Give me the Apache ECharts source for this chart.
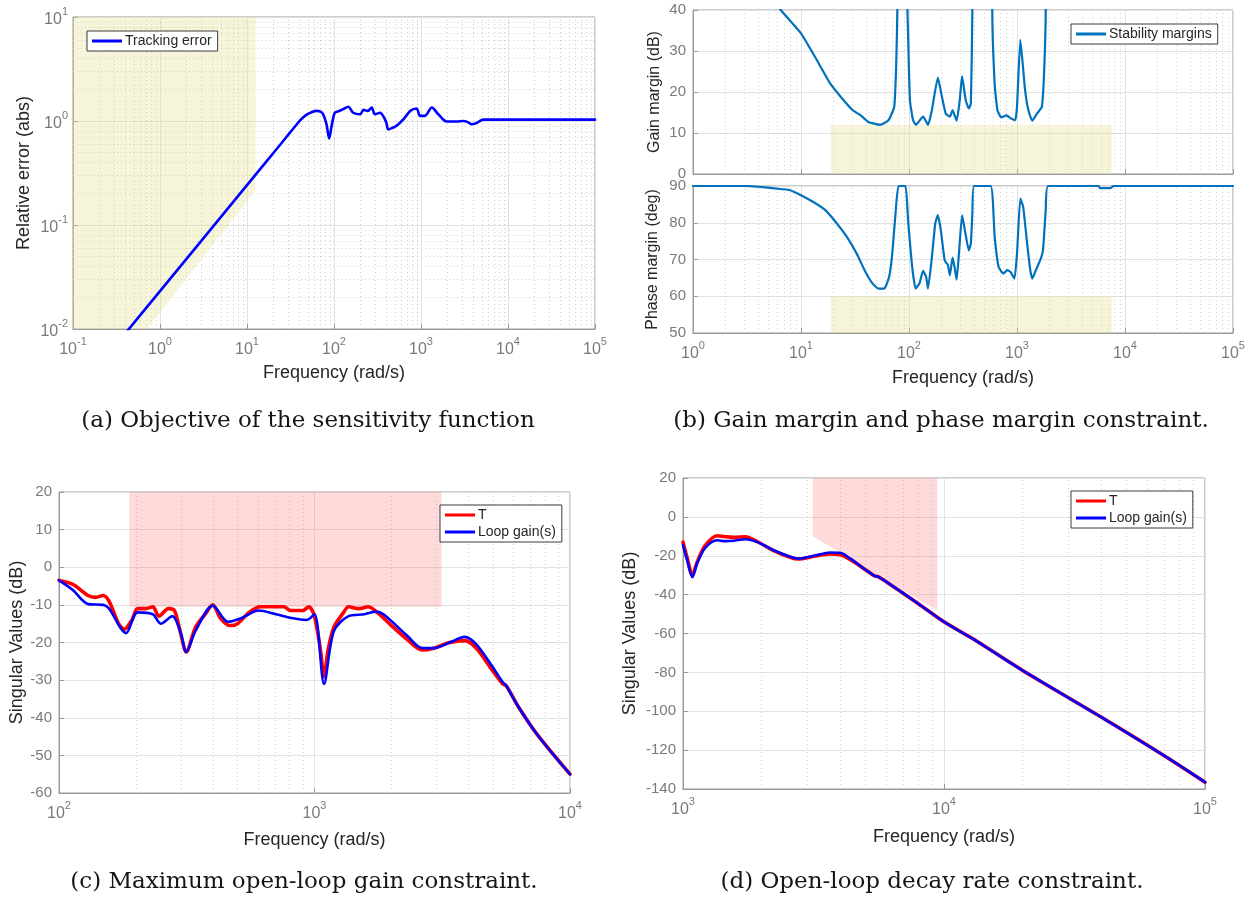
<!DOCTYPE html>
<html><head><meta charset="utf-8">
<script src="https://cdn.jsdelivr.net/npm/echarts@6/dist/echarts.min.js"></script>
<style>html,body{margin:0;padding:0;background:#fff}#c{width:1252px;height:903px}</style>
</head><body><div id="c"></div><script>
// ---------------- DATA ----------------
// (a) tracking error
const aFreq = [0.4,1,3,10,17.6,25,31,37,41,48.5,56,63,70,75,82,88,94,102,112,128,146,166,200,218,245,271,295,338,376,400,420,470,525,630,750,890,975,1110,1330,1580,1970,2570,3060,3500,3800,4300,4760,5200,10000,20000,100000];
const aErr  = [0.0091,0.0231,0.0708,0.2419,0.43,0.615,0.77,0.92,1.02,1.15,1.22,1.25,1.23,1.16,0.93,0.68,0.9,1.2,1.24,1.30,1.37,1.20,1.16,1.28,1.25,1.35,1.16,1.2,1.08,0.96,0.83,0.86,0.9,1.04,1.25,1.32,1.12,1.12,1.35,1.16,0.99,0.99,1.0,0.97,0.93,0.95,1.0,1.03,1.03,1.03,1.03];
const aShade = [[0.1,10],[12.57,10],[12.57,0.215],[0.71,0.01],[0.1,0.01]];

// (b) gain margin (values above 40 = infinite margin, clipped by axis)
const bGainFreq = [1,3,6.5,10,14,18.6,23.4,30,35.7,42,54,64.5,73,76,78,79,96,96.7,98,102,109,116,135,150,163,185,202,219,239,253,276,295,310,335,358,374,386,388,588,590,621,658,716,800,885,962,1000,1073,1121,1189,1273,1385,1531,1698,1780,1845,1850,100000];
const bGainDb   = [70,52,40,34.3,27.8,22.1,18.8,15.6,14.3,12.7,12.0,13.1,16.4,26,40,100,100,40,34.3,18,13.1,12,14,12,15.6,23.5,18.8,14.7,14,15.6,13,18,23.9,18,16,17.2,40,100,100,40,22,15.6,13.8,14.3,13.5,13.1,16.4,32.7,27.8,20.4,15.6,13,14.7,16.4,24.5,40,100,100];
const bGainShade = [[18.85,0],[18.85,12],[7540,12],[7540,0]];
// (b) phase margin
const bPhaseFreq = [1,3,4,6,7.8,10,12.9,16.7,21.5,26.5,32.8,38.8,45.9,52,59,65.5,70,75,80,92.7,98,107,115,125,135,144,150,163,175,185,197,214,229,239,253,264,276,290,310,329,358,374,386,400,570,621,675,747,813,870,946,1000,1073,1140,1241,1327,1385,1494,1640,1740,1845,1942,5680,5900,7310,7830,100000];
const bPhaseDeg  = [90,90,89.8,89.3,88.9,87.5,85.7,83.5,79.8,76.2,71.6,67.1,63.5,62.1,62.1,65.3,71.6,82.5,90,90,80.7,68,62.1,63.5,66.9,65.3,62.1,70.7,79.8,82.1,78,69.8,68.5,65.7,70.5,68,64.5,71.6,82.1,78,72.5,74.4,82.5,90,90,76.2,68,66.2,67.1,66.6,64.8,71.6,86.6,84.4,74.4,67.1,64.8,67.1,69.8,72.5,83.5,90,90,89.4,89.4,90,90];
const bPhaseShade = [[18.85,50],[18.85,60],[7540,60],[7540,50]];

// (c) maximum open-loop gain
const cFreqT = [100,113,130,139,149,157,171,180,193,203,218,233,246,268,283,298,315,342,373,400,428,467,500,555,615,757,806,900,950,1000,1055,1090,1130,1190,1300,1360,1490,1620,1760,2000,2290,2640,2930,3380,3870,4300,4920,5450,5630,6270,7450,10000];
const cT     = [-3.5,-4.5,-7.5,-8,-7.5,-9,-15,-16.5,-14,-11,-11,-10.5,-13,-11,-11.5,-17,-22.5,-16,-12.5,-10,-13.5,-15.5,-15,-12,-10.5,-10.5,-11.5,-11.5,-10.5,-13,-22,-29,-22,-16,-12,-10.5,-11,-10.5,-12,-15.5,-19,-22,-21.5,-20,-19.5,-21.5,-27,-31,-31.5,-37,-44.5,-55];
const cFreqL = [100,113,130,149,157,183,203,233,250,278,298,315,342,400,459,518,605,707,813,933,1000,1090,1190,1360,1567,1740,1862,2290,2640,2930,3380,3870,4300,4920,5450,5630,6270,7450,10000];
const cL     = [-3.5,-6,-9.8,-10,-11,-17.5,-12,-12.5,-15,-13,-17,-22.5,-17,-10.2,-14.5,-13.5,-11.5,-12.5,-13.5,-14,-12.5,-31,-17,-13,-12.5,-11.8,-12.5,-18,-21.5,-21.5,-20,-18.5,-20.5,-26,-30.5,-31.5,-37,-44.5,-55];
const cShade = [[188.5,20],[3141.6,20],[3141.6,-10.5],[188.5,-10.5]];

// (d) open-loop decay rate
const dFreqT = [1000,1036,1086,1132,1216,1352,1452,1560,1735,1930,2225,2570,2760,3175,3660,4000,4380,4860,5410,5600,6470,8000,10000,13000,20000,40000,70000,100000];
const dT     = [-13,-20.8,-30,-23.4,-14.8,-9.7,-10.2,-10.5,-10.2,-12.8,-17.4,-20.8,-21.7,-20.3,-19.1,-19.5,-22,-26,-30.3,-30.8,-36.3,-44.8,-54,-63,-79,-103,-123,-136.5];
const dFreqL = [1000,1036,1086,1132,1216,1352,1452,1560,1735,1930,2225,2570,2760,3175,3660,4000,4380,4860,5410,5600,6470,8000,10000,13000,20000,40000,70000,100000];
const dL     = [-14.5,-22,-31,-24,-16,-12,-12.5,-12.3,-11.5,-13,-17.2,-20.5,-21.5,-20,-18.3,-18.5,-21.5,-26,-30.3,-30.8,-36.3,-44.8,-54,-63,-79,-103,-123,-136.5];
const dShade = [[3141.6,20],[9425,20],[9425,-48.2],[3141.6,-10]];

const captions = ['(a) Objective of the sensitivity function','(b) Gain margin and phase margin constraint.','(c) Maximum open-loop gain constraint.','(d) Open-loop decay rate constraint.'];

// ---------------- STYLE ----------------
const SANS = '"Liberation Sans", Arial, sans-serif';
const AX = '#9a9a9a', LBL = '#7a7a7a', GRID = '#e2e2e2', MINOR = '#cfcfcf', NAME = '#262626';
const YEL = 'rgba(228,222,138,0.32)', RED = 'rgba(250,100,100,0.24)';

const zip = (xs, ys) => xs.map((x, i) => [x, ys[i]]);
function minors(lo, hi) {
  const out = [];
  for (let e = Math.floor(Math.log10(lo)); e < Math.log10(hi); e++)
    for (let m = 2; m <= 9; m++) { const v = m * Math.pow(10, e); if (v > lo * 1.0001 && v < hi * 0.9999) out.push(v); }
  return out;
}
const pow10 = v => '{b|10}{e|' + Math.round(Math.log10(v)) + '}';
const powRich = {
  b: {fontSize: 16, color: LBL, fontFamily: SANS, verticalAlign: 'bottom', lineHeight: 22},
  e: {fontSize: 11, color: LBL, fontFamily: SANS, verticalAlign: 'top', lineHeight: 12}
};
const nameStyle = (fs) => ({fontSize: fs, color: NAME, fontFamily: SANS});

function logAxis(gi, min, max, showLabel, name, gap, fs) {
  return {type: 'log', logBase: 10, gridIndex: gi, min, max,
    axisLine: {show: true, onZero: false, lineStyle: {color: AX}},
    axisTick: {show: true, inside: true, length: 5, lineStyle: {color: AX}},
    axisLabel: {show: showLabel, formatter: pow10, rich: powRich, margin: 7},
    splitLine: {show: true, lineStyle: {color: GRID, width: 1}},
    name: name || '', nameLocation: 'middle', nameGap: gap || 0, nameTextStyle: nameStyle(fs || 18)};
}
function valAxis(gi, min, max, interval, name, gap, fs) {
  return {type: 'value', gridIndex: gi, min, max, interval,
    axisLine: {show: true, onZero: false, lineStyle: {color: AX}},
    axisTick: {show: true, inside: true, length: 5, lineStyle: {color: AX}},
    axisLabel: {fontSize: 15, color: LBL, fontFamily: SANS, margin: 7},
    splitLine: {show: true, lineStyle: {color: GRID, width: 1}},
    name, nameLocation: 'middle', nameGap: gap, nameTextStyle: nameStyle(fs || 18)};
}
function shade(ai, pts, color) {
  return {type: 'custom', xAxisIndex: ai, yAxisIndex: ai, z: 1, silent: true, data: [pts[0]],
    renderItem: (params, api) => ({type: 'polygon', shape: {points: pts.map(p => api.coord(p))}, style: {fill: color}})};
}
function minorGrid(ai, xlo, xhi, ylo, yhi, yLog) {
  const d = minors(xlo, xhi).map(v => ({xAxis: v}));
  if (yLog) minors(ylo, yhi).forEach(v => d.push({yAxis: v}));
  return {type: 'line', xAxisIndex: ai, yAxisIndex: ai, z: 1, silent: true, symbol: 'none',
    data: [[xlo, ylo]], lineStyle: {opacity: 0},
    markLine: {silent: true, z: 1, symbol: ['none', 'none'], label: {show: false}, animation: false,
      lineStyle: {color: MINOR, type: [1, 3], width: 1}, emphasis: {disabled: true}, data: d}};
}
function curve(ai, name, pts, color, w, z, sm) {
  return {type: 'line', name, xAxisIndex: ai, yAxisIndex: ai, data: pts, showSymbol: false, symbol: 'none',
    smooth: sm == null ? 0.3 : sm,
    z: z || 3, clip: true, itemStyle: {color}, lineStyle: {color, width: w, join: 'round', cap: 'round'}, emphasis: {disabled: true}};
}
function legend(left, top, names) {
  return {left, top, orient: 'vertical', data: names, backgroundColor: '#fff', borderColor: '#3a3a3a', borderWidth: 1,
    padding: [3, 6, 3, 5], itemWidth: 30, itemHeight: 3, icon: 'rect', itemGap: 3, selectedMode: false,
    textStyle: {fontSize: 14, color: NAME, fontFamily: SANS, padding: [0, 0, 0, -2]}};
}
function caption(x, y, text) {
  return {type: 'text', x, y, silent: true,
    style: {text, align: 'center', verticalAlign: 'middle', font: '23px "DejaVu Serif", serif', fill: '#151515'}};
}

const grids = [
  {left: 73, top: 17, width: 522, height: 312},
  {left: 693, top: 10, width: 540, height: 164},
  {left: 693, top: 186, width: 540, height: 147},
  {left: 59, top: 492, width: 511, height: 301},
  {left: 683, top: 478, width: 522, height: 311}
].map(g => Object.assign({show: true, borderColor: AX, borderWidth: 1, backgroundColor: 'transparent'}, g));

const option = {
  animation: false,
  backgroundColor: '#fff',
  grid: grids,
  xAxis: [
    logAxis(0, 0.1, 1e5, true, 'Frequency (rad/s)', 35),
    logAxis(1, 1, 1e5, false),
    logAxis(2, 1, 1e5, true, 'Frequency (rad/s)', 36),
    logAxis(3, 100, 1e4, true, 'Frequency (rad/s)', 38),
    logAxis(4, 1000, 1e5, true, 'Frequency (rad/s)', 39)
  ],
  yAxis: [
    Object.assign(logAxis(0, 0.01, 10, true, 'Relative error (abs)', 40, 18), {axisLabel: {formatter: pow10, rich: powRich, margin: 5}}),
    valAxis(1, 0, 40, 10, 'Gain margin (dB)', 30, 16),
    valAxis(2, 50, 90, 10, 'Phase margin (deg)', 32, 16),
    valAxis(3, -60, 20, 10, 'Singular Values (dB)', 33, 18),
    valAxis(4, -140, 20, 20, 'Singular Values (dB)', 44, 18)
  ],
  legend: [
    legend(87, 31, ['Tracking error']),
    legend(1071, 24, ['Stability margins']),
    legend(440, 505, ['T', 'Loop gain(s)']),
    legend(1071, 491, ['T', 'Loop gain(s)'])
  ],
  graphic: [
    caption(308, 421, captions[0]),
    caption(941, 421, captions[1]),
    caption(304, 882, captions[2]),
    caption(932, 882, captions[3])
  ],
  series: [
    shade(0, aShade, YEL),
    shade(1, bGainShade, YEL),
    shade(2, bPhaseShade, YEL),
    shade(3, cShade, RED),
    shade(4, dShade, RED),
    minorGrid(0, 0.1, 1e5, 0.01, 10, true),
    minorGrid(1, 1, 1e5, 0, 40, false),
    minorGrid(2, 1, 1e5, 50, 90, false),
    minorGrid(3, 100, 1e4, -60, 20, false),
    minorGrid(4, 1000, 1e5, -140, 20, false),
    curve(0, 'Tracking error', zip(aFreq, aErr), '#0000ff', 2.6),
    curve(1, 'Stability margins', zip(bGainFreq, bGainDb), '#0072bd', 2.2, 3, 0.15),
    curve(2, 'Stability margins', zip(bPhaseFreq, bPhaseDeg), '#0072bd', 2.2, 3, 0.15),
    curve(3, 'T', zip(cFreqT, cT), '#ff0000', 3.6, 3),
    curve(3, 'Loop gain(s)', zip(cFreqL, cL), '#0000ff', 2.6, 4),
    curve(4, 'T', zip(dFreqT, dT), '#ff0000', 3.6, 3),
    curve(4, 'Loop gain(s)', zip(dFreqL, dL), '#0000ff', 2.6, 4)
  ]
};
const chart = echarts.init(document.getElementById('c'));
chart.setOption(option);
</script></body></html>
